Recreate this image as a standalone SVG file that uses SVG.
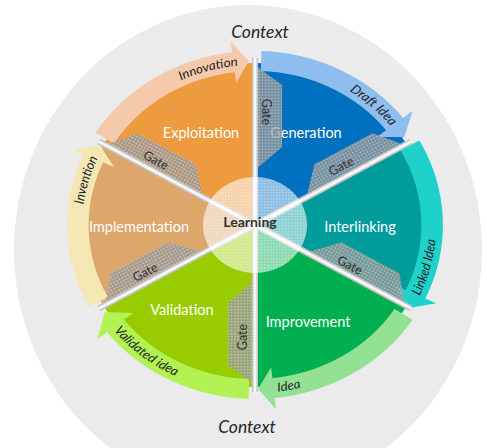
<svg xmlns="http://www.w3.org/2000/svg" width="487" height="448" viewBox="0 0 487 448">
<style>
.lbl{font-family:Lato,"Open Sans",sans-serif;font-size:14.5px;fill:#fff;text-anchor:middle}
.band{font-family:Lato,"Open Sans",sans-serif;font-size:12.5px;font-style:italic;fill:#262626}
.gt{font-family:Lato,"Open Sans",sans-serif;font-size:12.5px;fill:#333;text-anchor:middle;dominant-baseline:central}
.ctx{font-family:Lato,"Open Sans",sans-serif;font-size:17.5px;font-style:italic;fill:#262626;text-anchor:middle}
.gate{fill:url(#dots);opacity:0.8}
.div1{stroke:#c4c4c4;stroke-width:6;fill:none}
.div2{stroke:#f6f6f6;stroke-width:3;fill:none}
</style>
<defs>
<pattern id="dots" width="3" height="3" patternUnits="userSpaceOnUse"><rect width="3" height="3" fill="#999"/><rect width="1.5" height="1.5" fill="#c6c6c6"/></pattern>
<pattern id="ldots" width="3" height="3" patternUnits="userSpaceOnUse"><rect width="3" height="3" fill="#fff" fill-opacity="0.55"/><rect width="1.5" height="1.5" fill="#fff" fill-opacity="0.3"/></pattern>
<path id="t1" d="M-102.8,-122.6 A160,160 0 0 1 25.0,-158.0"/>
<path id="t2" d="M49.4,-152.2 A160,160 0 0 1 147.3,-62.5"/>
<path id="t3" d="M128.7,108.0 A168,168 0 0 0 165.4,-29.2"/>
<path id="t4" d="M-29.2,165.4 A168,168 0 0 0 89.0,142.5"/>
<path id="t5" d="M-152.3,71.0 A168,168 0 0 0 -34.9,164.3"/>
<path id="t6" d="M-159.4,13.9 A160,160 0 0 1 -127.8,-96.3"/>
</defs>
<ellipse cx="248" cy="250" rx="234" ry="245" fill="#ebebeb"/>

<g id="exploitation">
<path transform="translate(255,225) scale(1.08,1)" fill="#ed9b3e" d="M0,0 L-140.3,-81 A162,162 0 0 1 0,-162 Z"/>
<text class="lbl" x="201" y="138">Exploitation</text>
</g>
<g id="generation">
<path transform="translate(255,225) scale(1.08,1)" fill="#0070c0" d="M0,0 L0,-162 A162,162 0 0 1 140.3,-81 Z"/>
<text class="lbl" x="306" y="138">Generation</text>
</g>
<g id="interlinking">
<path transform="translate(255,225) scale(1.08,1)" fill="#009b9b" d="M0,0 L140.3,-81 A162,162 0 0 1 140.3,81 Z"/>
<text class="lbl" x="360" y="232">Interlinking</text>
</g>
<g id="improvement">
<path transform="translate(255,225) scale(1.08,1)" fill="#00b050" d="M0,0 L140.3,81 A162,162 0 0 1 0,162 Z"/>
<text class="lbl" x="308" y="327">Improvement</text>
</g>
<g id="validation">
<path transform="translate(255,225) scale(1.08,1)" fill="#99cc00" d="M0,0 L0,162 A162,162 0 0 1 -140.3,81 Z"/>
<text class="lbl" x="182" y="315">Validation</text>
</g>
<g id="implementation">
<path transform="translate(255,225) scale(1.08,1)" fill="#dda66a" d="M0,0 L-140.3,81 A162,162 0 0 1 -140.3,-81 Z"/>
<text class="lbl" x="139" y="232">Implementation</text>
</g>

<g id="connectors" transform="translate(255,225) scale(1.08,1)">
<path fill="#f4c9ac" d="M-147.6,-92.2 A174,174 0 0 1 -21.2,-172.7 L-22.5,-183.6 L-5.7,-163.9 L-17.4,-141.9 L-18.8,-152.8 A154,154 0 0 0 -130.6,-81.6 Z"/>
<path fill="#8ebdef" d="M6.1,-173.9 A174,174 0 0 1 137.1,-107.1 L145.8,-113.9 L138.3,-88.1 L112.7,-88.0 L121.4,-94.8 A154,154 0 0 0 5.4,-153.9 Z"/>
<path fill="#1ed2cb" d="M152.2,-84.4 A174,174 0 0 1 157.7,73.5 L167.7,78.2 L141.3,83.2 L129.6,60.4 L139.6,65.1 A154,154 0 0 0 134.7,-74.7 Z"/>
<path fill="#93e192" d="M145.9,94.8 A174,174 0 0 1 18.2,173.0 L19.3,184.0 L2.9,164.0 L14.9,142.2 L16.1,153.2 A154,154 0 0 0 129.2,83.9 Z"/>
<path fill="#b2f252" d="M-6.1,173.9 A174,174 0 0 1 -137.1,107.1 L-145.8,113.9 L-139.1,86.9 L-112.7,88.0 L-121.4,94.8 A154,154 0 0 0 -5.4,153.9 Z"/>
<path fill="#f4e7b3" d="M-153.6,81.7 A174,174 0 0 1 -159.0,-70.8 L-169.0,-75.2 L-143.4,-79.5 L-130.6,-58.2 L-140.7,-62.6 A154,154 0 0 0 -136.0,72.3 Z"/>
<text class="band"><textPath href="#t1" startOffset="50%" text-anchor="middle">Innovation</textPath></text>
<text class="band"><textPath href="#t2" startOffset="50%" text-anchor="middle">Draft Idea</textPath></text>
<text class="band"><textPath href="#t3" startOffset="50%" text-anchor="middle">Linked Idea</textPath></text>
<text class="band"><textPath href="#t4" startOffset="50%" text-anchor="middle">Idea</textPath></text>
<text class="band"><textPath href="#t5" startOffset="50%" text-anchor="middle">Validated idea</textPath></text>
<text class="band"><textPath href="#t6" startOffset="50%" text-anchor="middle">Invention</textPath></text>
</g>

<g id="gates">
<g transform="translate(255,225) scale(1.08,1)">
<path class="gate" transform="rotate(-90)" d="M55,0 L78,25 L140,25 L160,0 Z"/>
<path class="gate" transform="rotate(-30)" d="M55,0 L78,-25 L140,-25 L160,0 Z"/>
<path class="gate" transform="rotate(30)" d="M55,0 L78,-25 L140,-25 L160,0 Z"/>
<path class="gate" transform="rotate(90)" d="M55,0 L78,25 L140,25 L160,0 Z"/>
<path class="gate" transform="rotate(150)" d="M55,0 L78,25 L140,25 L160,0 Z"/>
<path class="gate" transform="rotate(210)" d="M55,0 L78,25 L140,25 L160,0 Z"/>
</g>
<text class="gt" transform="translate(266,112) rotate(90)">Gate</text>
<text class="gt" transform="translate(341,166) rotate(-28)">Gate</text>
<text class="gt" transform="translate(156,160) rotate(28)">Gate</text>
<text class="gt" transform="translate(145,272) rotate(-28)">Gate</text>
<text class="gt" transform="translate(350,265) rotate(28)">Gate</text>
<text class="gt" transform="translate(242,337) rotate(-90)">Gate</text>
</g>

<g id="dividers" transform="translate(255,225) scale(1.08,1)">
<path class="div1" vector-effect="non-scaling-stroke" d="M0,-167 L0,167 M144.6,-83.5 L-144.6,83.5 M144.6,83.5 L-144.6,-83.5"/>
<path class="div2" vector-effect="non-scaling-stroke" d="M0,-167 L0,167 M144.6,-83.5 L-144.6,83.5 M144.6,83.5 L-144.6,-83.5"/>
</g>

<g id="learning">
<ellipse cx="255" cy="225" rx="52" ry="48" fill="url(#ldots)"/>
<text x="250" y="227" style="font-family:Lato,'Open Sans',sans-serif;font-size:14px;font-weight:bold;fill:#333;text-anchor:middle">Learning</text>
</g>

<text class="ctx" x="260" y="38">Context</text>
<text class="ctx" x="247" y="433">Context</text>
</svg>
